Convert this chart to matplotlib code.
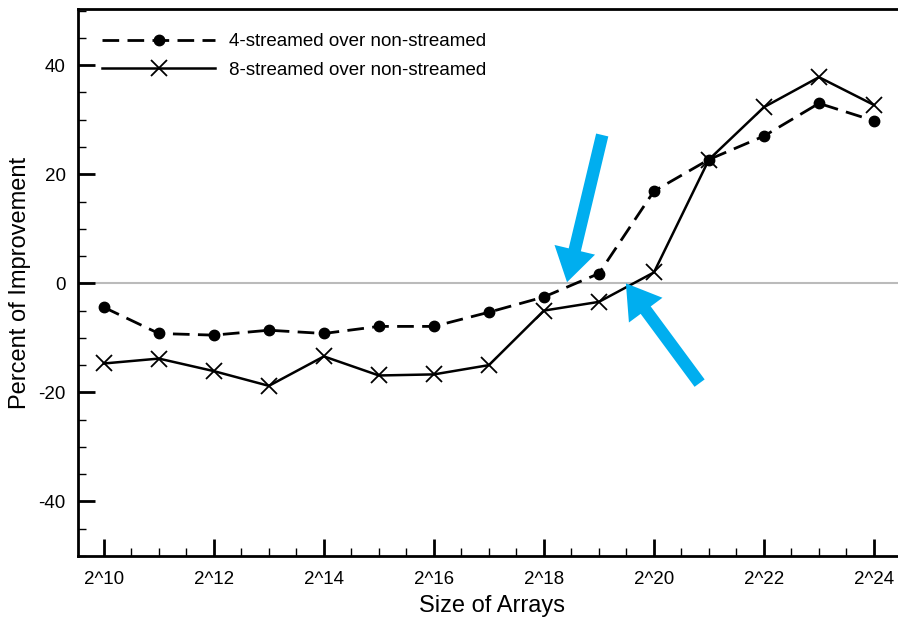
import numpy as np
import matplotlib.pyplot as plt
from matplotlib.ticker import MultipleLocator, FixedLocator

plt.rcParams['font.family'] = ['Liberation Sans', 'DejaVu Sans']
plt.rcParams['axes.unicode_minus'] = False

# exponents of the array sizes (2^n)
exponents = np.arange(10, 25)
tick_exponents = [10, 12, 14, 16, 18, 20, 22, 24]
tick_labels = ['2^%d' % e for e in tick_exponents]

four_streamed = [-4.4, -9.2, -9.5, -8.6, -9.2, -7.9, -7.9, -5.3,
                 -2.5, 1.8, 16.9, 22.7, 27.0, 33.0, 29.8]
eight_streamed = [-14.7, -13.8, -16.1, -18.8, -13.4, -16.9, -16.7, -15.0,
                  -5.0, -3.4, 2.0, 22.7, 32.3, 37.8, 32.7]

# arrow annotations (tail -> tip), in data coordinates
arrow_tails = [(19.06, 27.2), (20.83, -18.3)]
arrow_tips = [(18.42, 0.2), (19.49, 0.0)]

fig = plt.figure(figsize=(8.98, 6.2), dpi=100)
ax = fig.add_axes([78 / 898, 1 - 556 / 620, 1 - 78 / 898 + 0.01, (556 - 9) / 620])

ax.axhline(0, color='#bbbbbb', lw=1.5, zorder=1)

ax.plot(exponents, four_streamed, color='black', lw=2, ls=(0, (6, 3)),
        marker='o', markersize=7.5, label='4-streamed over non-streamed', zorder=3)
ax.plot(exponents, eight_streamed, color='black', lw=1.8, ls='-',
        marker='x', markersize=12, markeredgewidth=1.3,
        label='8-streamed over non-streamed', zorder=3)

for tail, tip in zip(arrow_tails, arrow_tips):
    ax.annotate('', xy=tip, xytext=tail,
                arrowprops=dict(arrowstyle='simple,head_length=1.2,head_width=1.5,tail_width=0.45',
                                mutation_scale=20, color='#00AEEF', lw=0,
                                shrinkA=0, shrinkB=0), zorder=4)

ax.set_xlim(9.53, 24.6)
ax.set_ylim(-50, 50.3)

ax.xaxis.set_major_locator(FixedLocator(tick_exponents))
ax.set_xticklabels(tick_labels)
ax.xaxis.set_minor_locator(MultipleLocator(0.5))
ax.yaxis.set_major_locator(MultipleLocator(20))
ax.yaxis.set_minor_locator(MultipleLocator(5))

ax.tick_params(which='major', direction='in', length=12, width=2, labelsize=13.5,
               colors='black')
ax.tick_params(axis='x', which='major', pad=11)
ax.tick_params(axis='y', which='major', pad=9)
ax.tick_params(which='minor', direction='in', length=6, width=1)
ax.tick_params(top=False, right=False, which='both')

for side in ['left', 'bottom', 'top']:
    ax.spines[side].set_linewidth(2)
ax.spines['right'].set_visible(False)

ax.set_xlabel('Size of Arrays', fontsize=17, labelpad=5)
ax.set_ylabel('Percent of Improvement', fontsize=17, labelpad=5)

ax.legend(loc='upper left', frameon=False, fontsize=13.5, handlelength=6.0,
          bbox_to_anchor=(0.0, 1.0), borderaxespad=0.9, handletextpad=0.75,
          labelspacing=0.6)

fig.savefig('out.png', dpi=100)
